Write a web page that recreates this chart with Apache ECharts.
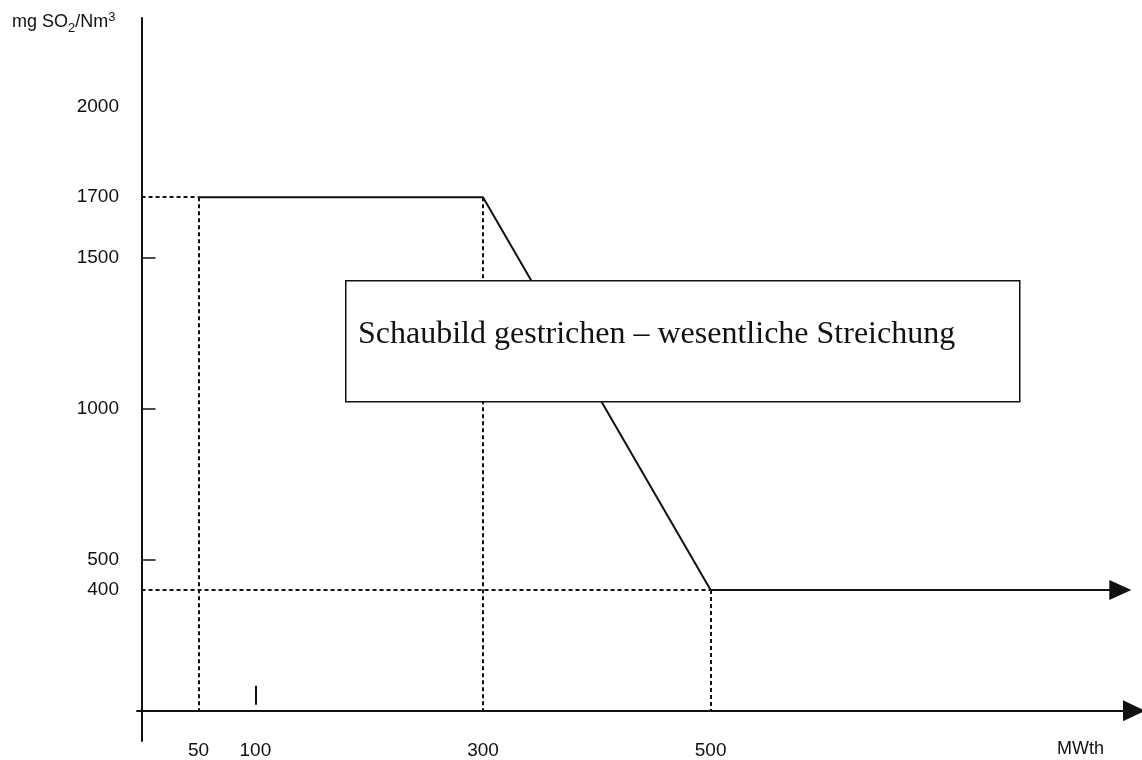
<!DOCTYPE html>
<html>
<head>
<meta charset="utf-8">
<style>html,body{margin:0;padding:0;background:#fff;}#c{width:1142px;height:760px;}</style>
<script src="https://cdn.jsdelivr.net/npm/echarts@6/dist/echarts.min.js"></script>
</head>
<body>
<div id="c"></div>
<script>
// Data
const limitX = [50, 300, 500, 860];
const limitY = [1700, 1700, 400, 400];
const yLabelValues = [400, 500, 1000, 1500, 1700, 2000];
const yTickValues = [500, 1000, 1500];
const xLabelValues = [50, 100, 300, 500];
const markAt100 = [100, 20, 83];
const boxText = 'Schaubild gestrichen – wesentliche Streichung';

const chart = echarts.init(document.getElementById('c'));
const black = '#111';
const sans = 'Liberation Sans, Arial, sans-serif';
const dash = { color: black, width: 2, type: [4, 3] };
const lineData = limitX.slice(0, 3).map((x, i) => [x, limitY[i]]);

const option = {
  animation: false,
  backgroundColor: '#fff',
  grid: { left: 137, right: 8, top: 18, bottom: 19, containLabel: false, outerBoundsMode: 'none' },
  xAxis: {
    type: 'value', min: -4, max: 872,
    splitLine: { show: false },
    axisLine: { onZero: true, symbol: ['none', 'triangle'], symbolSize: [21, 22], lineStyle: { color: black, width: 2 } },
    axisTick: { show: false },
    axisLabel: { customValues: xLabelValues, formatter: v => String(v), margin: 0, color: '#111', fontSize: 19, fontFamily: sans }
  },
  yAxis: {
    type: 'value', min: -100, max: 2293,
    splitLine: { show: false },
    axisLine: { onZero: true, lineStyle: { color: black, width: 2 } },
    axisTick: { customValues: yTickValues, inside: true, length: 14, lineStyle: { color: black, width: 1.5 } },
    axisLabel: { customValues: yLabelValues, formatter: v => String(v), margin: 18, color: '#111', fontSize: 19, fontFamily: sans }
  },
  series: [
    {
      type: 'line', data: lineData, showSymbol: false, silent: true, z: 2,
      lineStyle: { color: black, width: 2 },
      markLine: {
        silent: true, symbol: ['none', 'none'], label: { show: false },
        lineStyle: dash,
        data: [
          [{ coord: [0, limitY[0]] }, { coord: [limitX[0], limitY[0]] }],
          [{ coord: [limitX[0], limitY[0]] }, { coord: [limitX[0], 0] }],
          [{ coord: [limitX[1], limitY[1]] }, { coord: [limitX[1], 0] }],
          [{ coord: [0, limitY[2]] }, { coord: [limitX[2], limitY[2]] }],
          [{ coord: [limitX[2], limitY[2]] }, { coord: [limitX[2], 0] }],
          [{ coord: [markAt100[0], markAt100[1]] }, { coord: [markAt100[0], markAt100[2]], lineStyle: { type: 'solid', width: 2 } }]
        ]
      }
    },
    {
      type: 'line', data: [], silent: true, z: 2,
      markLine: {
        silent: true, symbol: ['none', 'triangle'], symbolSize: [20, 22], label: { show: false },
        lineStyle: { color: black, width: 2, type: 'solid' },
        data: [[{ coord: [limitX[2], limitY[2]] }, { coord: [limitX[3], limitY[3]] }]]
      }
    }
  ],
  graphic: [
    {
      type: 'text', left: 12, top: 11, z: 10,
      style: {
        text: '{a|mg SO}{s|2}{a|/Nm}{p|3}',
        rich: {
          a: { fontSize: 18, fontFamily: sans, fill: '#111', verticalAlign: 'bottom' },
          s: { fontSize: 13, fontFamily: sans, fill: '#111', padding: [0, 0, -4, 0], verticalAlign: 'bottom' },
          p: { fontSize: 13, fontFamily: sans, fill: '#111', padding: [0, 0, 7, 0], verticalAlign: 'bottom' }
        }
      }
    },
    {
      type: 'text', left: 1057, top: 740, z: 10,
      style: { text: 'MWth', fontSize: 18, fontFamily: sans, fill: '#111' }
    },
    {
      type: 'rect', left: 345, top: 280, z: 100, zlevel: 1,
      shape: { x: 0, y: 0, width: 674, height: 121 },
      style: { fill: '#fff', stroke: black, lineWidth: 1.5 }
    },
    {
      type: 'text', left: 358, top: 319, z: 101, zlevel: 1,
      style: { text: boxText, fontSize: 32, fontFamily: 'Liberation Serif, Times New Roman, serif', fill: '#111' }
    }
  ]
};
chart.setOption(option);
</script>
</body>
</html>
